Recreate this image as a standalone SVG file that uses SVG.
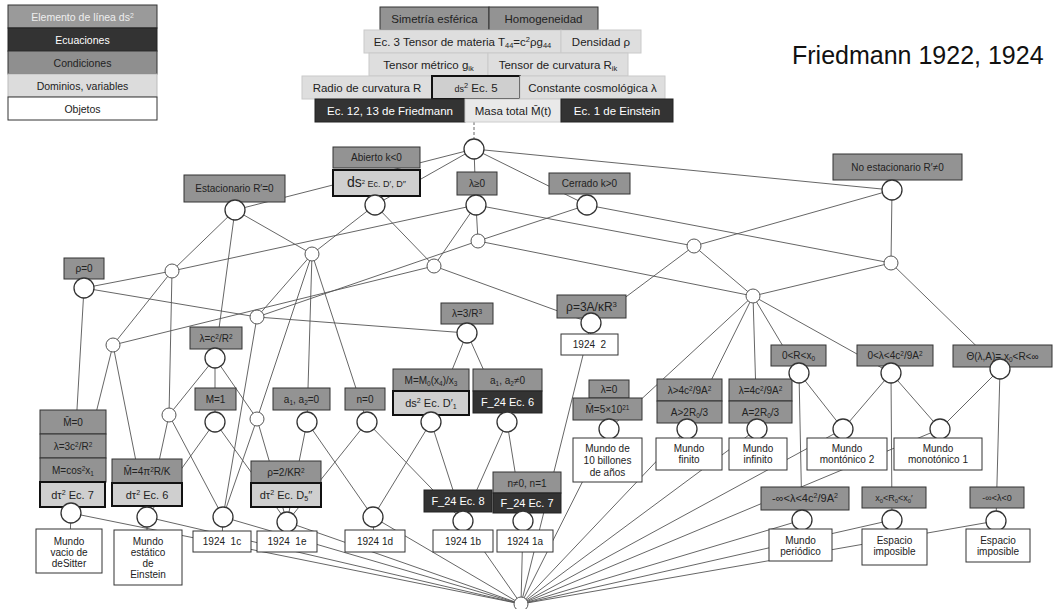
<svg xmlns="http://www.w3.org/2000/svg" width="1053" height="609" viewBox="0 0 1053 609">
<style>
text{font-family:"Liberation Sans",Arial,sans-serif;font-size:10px;text-anchor:middle;fill:#222}
.c{fill:#939393;stroke:#333;stroke-width:1}
.e{fill:#333;stroke:#222;stroke-width:1}
.d{fill:#cfcfcf;stroke:#111;stroke-width:2}
.v{fill:#dedede;stroke:#cacaca;stroke-width:1}
.o{fill:#fff;stroke:#333;stroke-width:1}
text.w{fill:#fff}
.n{fill:#fff;stroke:#333;stroke-width:1.3}
.j{fill:#fff;stroke:#555;stroke-width:1}
#connectors line{stroke:#555;stroke-width:0.9}
.sb{font-size:65%;baseline-shift:-2px}
.sp{font-size:65%;baseline-shift:super}
text.top{font-size:11.5px}
</style>
<g id="legend">
<rect x="8" y="5" width="149" height="23" fill="#9a9a9a" stroke="#333"/><text x="82.5" y="20.5" style="fill:#eee;font-size:10.5px">Elemento de línea ds<tspan class="sp">2</tspan></text>
<rect x="8" y="28" width="149" height="23" fill="#333" stroke="#222"/><text class="w" x="82.5" y="43.5" style="font-size:10.5px">Ecuaciones</text>
<rect x="8" y="51" width="149" height="23" fill="#8f8f8f" stroke="#333"/><text x="82.5" y="66.5" style="font-size:10.5px">Condiciones</text>
<rect x="8" y="74" width="149" height="23" fill="#dcdcdc" stroke="#bbb"/><text x="82.5" y="89.5" style="font-size:10.5px">Dominios, variables</text>
<rect x="8" y="97" width="149" height="23" fill="#fff" stroke="#333"/><text x="82.5" y="112.5" style="font-size:10.5px">Objetos</text>
</g>
<text x="792" y="64" style="font-size:25px;text-anchor:start;fill:#111">Friedmann 1922, 1924</text>
<g id="connectors">
<line x1="474" y1="122" x2="474" y2="139" style="stroke-dasharray:3,2"/>
<line x1="474" y1="149" x2="235" y2="210"/>
<line x1="474" y1="149" x2="375" y2="205"/>
<line x1="474" y1="149" x2="476" y2="205"/>
<line x1="474" y1="149" x2="587" y2="205"/>
<line x1="474" y1="149" x2="892" y2="190"/>
<line x1="235" y1="210" x2="172" y2="271"/>
<line x1="235" y1="210" x2="312" y2="254"/>
<line x1="235" y1="210" x2="215" y2="358"/>
<line x1="375" y1="205" x2="312" y2="254"/>
<line x1="375" y1="205" x2="434" y2="266"/>
<line x1="476" y1="205" x2="172" y2="271"/>
<line x1="476" y1="205" x2="478" y2="241"/>
<line x1="476" y1="205" x2="434" y2="266"/>
<line x1="476" y1="205" x2="694" y2="246"/>
<line x1="587" y1="205" x2="478" y2="241"/>
<line x1="587" y1="205" x2="891" y2="263"/>
<line x1="892" y1="190" x2="694" y2="246"/>
<line x1="892" y1="190" x2="891" y2="263"/>
<line x1="84" y1="288" x2="172" y2="271"/>
<line x1="84" y1="288" x2="257" y2="317"/>
<line x1="84" y1="288" x2="71" y2="513"/>
<line x1="172" y1="271" x2="113" y2="345"/>
<line x1="172" y1="271" x2="169" y2="415"/>
<line x1="312" y1="254" x2="257" y2="317"/>
<line x1="312" y1="254" x2="257" y2="419"/>
<line x1="312" y1="254" x2="307" y2="422"/>
<line x1="312" y1="254" x2="367" y2="422"/>
<line x1="257" y1="317" x2="467" y2="333"/>
<line x1="257" y1="317" x2="478" y2="241"/>
<line x1="257" y1="317" x2="223" y2="517"/>
<line x1="113" y1="345" x2="434" y2="266"/>
<line x1="113" y1="345" x2="71" y2="513"/>
<line x1="113" y1="345" x2="147" y2="517"/>
<line x1="434" y1="266" x2="591" y2="323"/>
<line x1="694" y1="246" x2="753" y2="296"/>
<line x1="694" y1="246" x2="591" y2="323"/>
<line x1="891" y1="263" x2="753" y2="296"/>
<line x1="891" y1="263" x2="1000" y2="369"/>
<line x1="478" y1="241" x2="753" y2="296"/>
<line x1="753" y1="296" x2="609" y2="429"/>
<line x1="753" y1="296" x2="687" y2="429"/>
<line x1="753" y1="296" x2="757" y2="429"/>
<line x1="753" y1="296" x2="799" y2="373"/>
<line x1="753" y1="296" x2="891" y2="373"/>
<line x1="169" y1="415" x2="147" y2="517"/>
<line x1="169" y1="415" x2="223" y2="517"/>
<line x1="169" y1="415" x2="215" y2="358"/>
<line x1="215" y1="358" x2="215" y2="422"/>
<line x1="215" y1="358" x2="257" y2="419"/>
<line x1="215" y1="422" x2="147" y2="517"/>
<line x1="215" y1="422" x2="287" y2="522"/>
<line x1="257" y1="419" x2="223" y2="517"/>
<line x1="257" y1="419" x2="287" y2="522"/>
<line x1="307" y1="422" x2="287" y2="522"/>
<line x1="307" y1="422" x2="373" y2="517"/>
<line x1="367" y1="422" x2="287" y2="522"/>
<line x1="367" y1="422" x2="463" y2="521"/>
<line x1="467" y1="333" x2="431" y2="422"/>
<line x1="467" y1="333" x2="507" y2="422"/>
<line x1="431" y1="422" x2="373" y2="517"/>
<line x1="431" y1="422" x2="463" y2="521"/>
<line x1="507" y1="422" x2="463" y2="521"/>
<line x1="507" y1="422" x2="523" y2="521"/>
<line x1="799" y1="373" x2="843" y2="429"/>
<line x1="799" y1="373" x2="802" y2="520"/>
<line x1="891" y1="373" x2="843" y2="429"/>
<line x1="891" y1="373" x2="940" y2="429"/>
<line x1="891" y1="373" x2="892" y2="520"/>
<line x1="1000" y1="369" x2="940" y2="429"/>
<line x1="1000" y1="369" x2="996" y2="521"/>
<line x1="521" y1="604" x2="71" y2="513"/>
<line x1="521" y1="604" x2="147" y2="517"/>
<line x1="521" y1="604" x2="223" y2="517"/>
<line x1="521" y1="604" x2="287" y2="522"/>
<line x1="521" y1="604" x2="373" y2="517"/>
<line x1="521" y1="604" x2="463" y2="521"/>
<line x1="521" y1="604" x2="523" y2="521"/>
<line x1="521" y1="604" x2="591" y2="323"/>
<line x1="521" y1="604" x2="609" y2="429"/>
<line x1="521" y1="604" x2="687" y2="429"/>
<line x1="521" y1="604" x2="757" y2="429"/>
<line x1="521" y1="604" x2="843" y2="429"/>
<line x1="521" y1="604" x2="940" y2="429"/>
<line x1="521" y1="604" x2="802" y2="520"/>
<line x1="521" y1="604" x2="892" y2="520"/>
<line x1="521" y1="604" x2="996" y2="521"/>
<line x1="71" y1="513" x2="70" y2="540"/>
<line x1="147" y1="517" x2="147" y2="540"/>
<line x1="223" y1="517" x2="222" y2="540"/>
<line x1="287" y1="522" x2="287" y2="540"/>
<line x1="373" y1="517" x2="374" y2="540"/>
<line x1="463" y1="521" x2="463" y2="540"/>
<line x1="523" y1="521" x2="524" y2="540"/>
<line x1="591" y1="323" x2="590" y2="344"/>
<line x1="609" y1="429" x2="608" y2="450"/>
<line x1="687" y1="429" x2="688" y2="450"/>
<line x1="757" y1="429" x2="758" y2="450"/>
<line x1="843" y1="429" x2="846" y2="450"/>
<line x1="940" y1="429" x2="938" y2="450"/>
<line x1="802" y1="520" x2="801" y2="540"/>
<line x1="892" y1="520" x2="894" y2="540"/>
<line x1="996" y1="521" x2="997" y2="540"/>
</g>
<g id="top-block">
<rect class="c" x="380" y="7" width="109" height="23"/><text class="top" x="434.5" y="22.5">Simetría esférica</text>
<rect class="c" x="489" y="7" width="109" height="23"/><text class="top" x="543.5" y="22.5">Homogeneidad</text>
<rect class="v" x="364" y="30" width="197" height="23"/><text class="top" x="462.5" y="45.5">Ec. 3 Tensor de materia T<tspan class="sb">44</tspan>=c<tspan class="sp">2</tspan>ρg<tspan class="sb">44</tspan></text>
<rect class="v" x="561" y="30" width="80" height="23"/><text class="top" x="601" y="45.5">Densidad ρ</text>
<rect class="v" x="369" y="53" width="119" height="23"/><text class="top" x="428.5" y="68.5">Tensor métrico g<tspan class="sb">ik</tspan></text>
<rect class="v" x="488" y="53" width="140" height="23"/><text class="top" x="558" y="68.5">Tensor de curvatura R<tspan class="sb">ik</tspan></text>
<rect class="v" x="302" y="76" width="130" height="23"/><text class="top" x="367" y="91.5">Radio de curvatura R</text>
<rect class="d" x="432" y="76" width="88" height="23"/><text class="top" x="476" y="91.5"><tspan style="font-size:9px">ds</tspan><tspan class="sp">2</tspan> Ec. 5</text>
<rect class="v" x="520" y="76" width="145" height="23"/><text class="top" x="592.5" y="91.5">Constante cosmológica λ</text>
<rect class="e" x="315" y="99" width="150" height="23"/><text class="top w" x="390" y="114.5">Ec. 12, 13 de Friedmann</text>
<rect x="465" y="99" width="96" height="23" fill="#e9e9e9" stroke="#ccc"/><text class="top" x="513" y="114.5">Masa total M̄(t)</text>
<rect class="e" x="561" y="99" width="112" height="23"/><text class="top w" x="617" y="114.5">Ec. 1 de Einstein</text>
</g>
<g id="hub"><circle class="n" cx="474" cy="149" r="10"/></g>
<g id="estacionario"><rect class="c" x="184" y="175" width="101" height="27"/><text x="234.5" y="192">Estacionario R′=0</text><circle class="n" cx="235" cy="210" r="10"/></g>
<g id="abierto"><rect class="c" x="333" y="147" width="87" height="21"/><text x="376.5" y="161">Abierto k&lt;0</text><rect class="d" x="333" y="170" width="87" height="26"/><text x="376.5" y="187" style="font-size:9px"><tspan style="font-size:14px">ds</tspan><tspan class="sp">2</tspan> Ec. D′, D′′</text><circle class="n" cx="375" cy="205" r="10"/></g>
<g id="lambda-ge0"><rect class="c" x="457" y="172" width="40" height="23"/><text x="477" y="187">λ≥0</text><circle class="n" cx="476" cy="205" r="10"/></g>
<g id="cerrado"><rect class="c" x="549" y="173" width="81" height="21"/><text x="589.5" y="187">Cerrado k&gt;0</text><circle class="n" cx="587" cy="205" r="10"/></g>
<g id="no-estacionario"><rect class="c" x="833" y="154" width="129" height="26"/><text x="897.5" y="171">No estacionario R′≠0</text><circle class="n" cx="892" cy="190" r="10"/></g>
<g id="rho0"><rect class="c" x="64" y="258" width="40" height="21"/><text x="84" y="272">ρ=0</text><circle class="n" cx="84" cy="288" r="10"/></g>
<g id="junctions">
<circle class="j" cx="172" cy="271" r="7"/><circle class="j" cx="312" cy="254" r="7"/><circle class="j" cx="257" cy="317" r="7"/><circle class="j" cx="478" cy="241" r="7"/><circle class="j" cx="434" cy="266" r="7"/><circle class="j" cx="694" cy="246" r="7"/><circle class="j" cx="891" cy="263" r="7"/><circle class="j" cx="753" cy="296" r="7"/><circle class="j" cx="113" cy="345" r="7"/><circle class="j" cx="169" cy="415" r="7"/><circle class="j" cx="257" cy="419" r="7"/><circle class="j" cx="521" cy="604" r="7"/>
</g>
<g id="lambda-c2"><rect class="c" x="190" y="327" width="52" height="22"/><text x="216" y="342">λ=c<tspan class="sp">2</tspan>/R<tspan class="sp">2</tspan></text><circle class="n" cx="215" cy="358" r="10"/></g>
<g id="m1"><rect class="c" x="195" y="388" width="41" height="22"/><text x="215.5" y="403">M=1</text><circle class="n" cx="215" cy="422" r="10"/></g>
<g id="a1a2-0"><rect class="c" x="273" y="388" width="57" height="22"/><text x="301.5" y="403">a<tspan class="sb">1</tspan>, a<tspan class="sb">2</tspan>=0</text><circle class="n" cx="307" cy="422" r="10"/></g>
<g id="n0"><rect class="c" x="345" y="388" width="40" height="22"/><text x="365" y="403">n=0</text><circle class="n" cx="367" cy="422" r="10"/></g>
<g id="lambda-3"><rect class="c" x="441" y="303" width="52" height="21"/><text x="467" y="317">λ=3/R<tspan class="sp">3</tspan></text><circle class="n" cx="467" cy="333" r="10"/></g>
<g id="d1"><rect class="c" x="393" y="369" width="76" height="22"/><text x="431" y="384">M=M<tspan class="sb">0</tspan>(x<tspan class="sb">4</tspan>)/x<tspan class="sb">3</tspan></text><rect class="d" x="393" y="391" width="76" height="24"/><text x="431" y="407" style="font-size:11px">ds<tspan class="sp">2</tspan> Ec. D′<tspan class="sb">1</tspan></text><circle class="n" cx="431" cy="422" r="10"/></g>
<g id="f6"><rect class="c" x="473" y="369" width="69" height="22"/><text x="507.5" y="384">a<tspan class="sb">1</tspan>, a<tspan class="sb">2</tspan>≠0</text><rect class="e" x="473" y="391" width="69" height="22"/><text class="w" x="507.5" y="406" style="font-size:11px">F_24 Ec. 6</text><circle class="n" cx="507" cy="422" r="10"/></g>
<g id="rho3a"><rect class="c" x="557" y="295" width="69" height="23"/><text x="591.5" y="311" style="font-size:12px">ρ=3A/κR<tspan class="sp">3</tspan></text><circle class="n" cx="591" cy="323" r="10"/><rect class="o" x="561" y="334" width="57" height="21"/><text x="589.5" y="348">1924&#160; 2</text></g>
<g id="lambda0"><rect class="c" x="589" y="380" width="40" height="18"/><text x="609" y="393">λ=0</text><rect class="c" x="573" y="398" width="69" height="22"/><text x="607.5" y="413">M̄=5×10<tspan class="sp">21</tspan></text><circle class="n" cx="609" cy="429" r="10"/><rect class="o" x="573" y="438" width="69" height="44"/><text x="607.5" y="452">Mundo de</text><text x="607.5" y="464">10 billones</text><text x="607.5" y="476">de años</text></g>
<g id="finito"><rect class="c" x="657" y="379" width="65" height="22"/><text x="689.5" y="394">λ&gt;4c<tspan class="sp">2</tspan>/9A<tspan class="sp">2</tspan></text><rect class="c" x="657" y="401" width="65" height="22"/><text x="689.5" y="416">A&gt;2R<tspan class="sb">0</tspan>/3</text><circle class="n" cx="687" cy="429" r="10"/><rect class="o" x="656" y="438" width="66" height="32"/><text x="689" y="452">Mundo</text><text x="689" y="463">finito</text></g>
<g id="infinito"><rect class="c" x="729" y="379" width="63" height="22"/><text x="760.5" y="394">λ=4c<tspan class="sp">2</tspan>/9A<tspan class="sp">2</tspan></text><rect class="c" x="729" y="401" width="63" height="22"/><text x="760.5" y="416">A=2R<tspan class="sb">0</tspan>/3</text><circle class="n" cx="757" cy="429" r="10"/><rect class="o" x="729" y="438" width="58" height="32"/><text x="758" y="452">Mundo</text><text x="758" y="463">infinito</text></g>
<g id="r-x0"><rect class="c" x="771" y="345" width="55" height="21"/><text x="798.5" y="359">0&lt;R&lt;x<tspan class="sb">0</tspan></text><circle class="n" cx="799" cy="373" r="10"/></g>
<g id="lambda-range"><rect class="c" x="857" y="345" width="76" height="21"/><text x="895" y="359">0&lt;λ&lt;4c<tspan class="sp">2</tspan>/9A<tspan class="sp">2</tspan></text><circle class="n" cx="891" cy="373" r="10"/></g>
<g id="theta"><rect class="c" x="953" y="345" width="99" height="22"/><text x="1002.5" y="360">Θ(λ,A)= x<tspan class="sb">0</tspan>&lt;R&lt;∞</text><circle class="n" cx="1000" cy="369" r="10"/></g>
<g id="monotonico2"><circle class="n" cx="843" cy="429" r="10"/><rect class="o" x="807" y="438" width="80" height="32"/><text x="847" y="452">Mundo</text><text x="847" y="463">montónico  2</text></g>
<g id="monotonico1"><circle class="n" cx="940" cy="429" r="10"/><rect class="o" x="894" y="438" width="88" height="32"/><text x="938" y="452">Mundo</text><text x="938" y="463">monotónico 1</text></g>
<g id="periodico"><rect class="c" x="761" y="487" width="88" height="23"/><text x="805" y="502" style="font-size:11px">-∞&lt;λ&lt;4c<tspan class="sp">2</tspan>/9A<tspan class="sp">2</tspan></text><circle class="n" cx="802" cy="520" r="10"/><rect class="o" x="769" y="529" width="63" height="32"/><text x="800.5" y="544">Mundo</text><text x="800.5" y="555">periódico</text></g>
<g id="espacio1"><rect class="c" x="862" y="487" width="64" height="21"/><text x="894" y="501" style="font-size:9px">x<tspan class="sb">0</tspan>&lt;R<tspan class="sb">0</tspan>&lt;x<tspan class="sb">0</tspan>′</text><circle class="n" cx="892" cy="520" r="10"/><rect class="o" x="862" y="529" width="65" height="36"/><text x="894.5" y="544">Espacio</text><text x="894.5" y="555">imposible</text></g>
<g id="espacio2"><rect class="c" x="970" y="487" width="54" height="21"/><text x="997" y="501" style="font-size:9px">-∞&lt;λ&lt;0</text><circle class="n" cx="996" cy="521" r="10"/><rect class="o" x="966" y="529" width="64" height="33"/><text x="998" y="544">Espacio</text><text x="998" y="555">imposible</text></g>
<g id="desitter"><rect class="c" x="40" y="410" width="66" height="24"/><text x="73" y="426">M̄=0</text><rect class="c" x="40" y="434" width="66" height="24"/><text x="73" y="450">λ=3c<tspan class="sp">2</tspan>/R<tspan class="sp">2</tspan></text><rect class="c" x="40" y="458" width="66" height="24"/><text x="73" y="474">M=cos<tspan class="sp">2</tspan>x<tspan class="sb">1</tspan></text><rect class="d" x="40" y="482" width="65" height="25"/><text x="72.5" y="499" style="font-size:11px">dτ<tspan class="sp">2</tspan> Ec. 7</text><circle class="n" cx="71" cy="513" r="10"/><rect class="o" x="36" y="529" width="66" height="44"/><text x="69" y="545">Mundo</text><text x="69" y="556">vacio de</text><text x="69" y="567">deSitter</text></g>
<g id="einstein"><rect class="c" x="112" y="459" width="70" height="24"/><text x="147" y="475">M̄=4π<tspan class="sp">2</tspan>R/K</text><rect class="d" x="112" y="483" width="70" height="23"/><text x="147" y="499" style="font-size:11px">dτ<tspan class="sp">2</tspan> Ec. 6</text><circle class="n" cx="147" cy="517" r="10"/><rect class="o" x="114" y="530" width="68" height="55"/><text x="148" y="545">Mundo</text><text x="148" y="556">estático</text><text x="148" y="567">de</text><text x="148" y="578">Einstein</text></g>
<g id="obj-1924-1c"><circle class="n" cx="223" cy="517" r="10"/><rect class="o" x="193" y="531" width="58" height="21"/><text x="222" y="545">1924&#160; 1c</text></g>
<g id="obj-1924-1e"><rect class="c" x="251" y="461" width="70" height="22"/><text x="286" y="476">ρ=2/KR<tspan class="sp">2</tspan></text><rect class="d" x="251" y="483" width="70" height="24"/><text x="286" y="499" style="font-size:11px">dτ<tspan class="sp">2</tspan> Ec. D<tspan class="sb">5</tspan>′′</text><circle class="n" cx="287" cy="522" r="10"/><rect class="o" x="257" y="531" width="60" height="21"/><text x="287" y="545">1924&#160; 1e</text></g>
<g id="obj-1924-1d"><circle class="n" cx="373" cy="517" r="10"/><rect class="o" x="345" y="530" width="60" height="22"/><text x="375" y="545">1924 1d</text></g>
<g id="obj-1924-1b"><rect class="e" x="424" y="490" width="68" height="22"/><text class="w" x="458" y="505" style="font-size:11px">F_24 Ec. 8</text><circle class="n" cx="463" cy="521" r="10"/><rect class="o" x="433" y="530" width="60" height="22"/><text x="463" y="545">1924 1b</text></g>
<g id="obj-1924-1a"><rect class="c" x="493" y="472" width="68" height="21"/><text x="527" y="487">n≠0, n=1</text><rect class="e" x="493" y="493" width="68" height="20"/><text class="w" x="527" y="507" style="font-size:11px">F_24 Ec. 7</text><circle class="n" cx="523" cy="521" r="10"/><rect class="o" x="497" y="530" width="56" height="22"/><text x="525" y="545">1924 1a</text></g>
</svg>
